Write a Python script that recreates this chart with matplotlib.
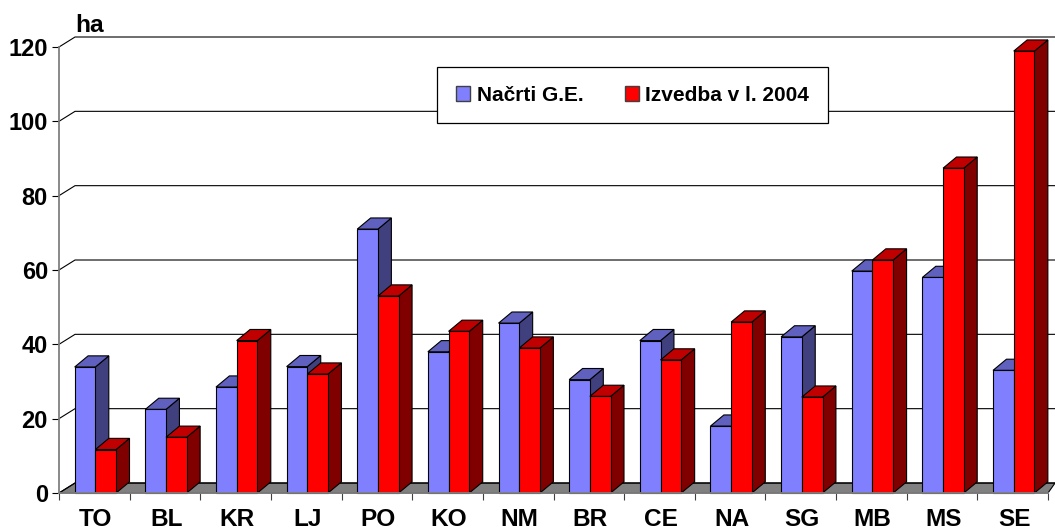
import matplotlib
matplotlib.use("Agg")
import matplotlib.pyplot as plt
import matplotlib.patches as patches
import numpy as np

plt.rcParams['font.family'] = ['Liberation Sans', 'DejaVu Sans']
plt.rcParams['font.weight'] = 'bold'

categories = ["TO", "BL", "KR", "LJ", "PO", "KO", "NM", "BR", "CE", "NA", "SG", "MB", "MS", "SE"]
nacrti = [33.9, 22.5, 28.5, 34, 71, 38, 45.7, 30.5, 41, 18, 42, 59.7, 58, 33]
izvedba = [11.7, 15, 41, 32, 53, 43.5, 39, 26, 35.8, 46, 25.8, 62.7, 87.4, 118.9]
yticks = [0, 20, 40, 60, 80, 100, 120]
series_names = ["Načrti G.E.", "Izvedba v l. 2004"]

W, H = 1055, 532
fig = plt.figure(figsize=(W / 100, H / 100), dpi=100)
ax = fig.add_axes([59 / W, (H - 493) / H, 989 / W, 446 / H])
ax.set_xlim(0, 14)
ax.set_ylim(0, 120)

# fake 3d offsets, in data units
wall_dx, wall_dy = 0.227, 2.69
bar_dx, bar_dy = 0.19, 3.0
width = 0.293
right = 14.1

# floor
floor = patches.Polygon([(0, 0), (wall_dx, wall_dy), (right, wall_dy), (14, 0)],
                        closed=True, facecolor="#808080", edgecolor="black",
                        lw=0.8, clip_on=False, zorder=1)
ax.add_patch(floor)

# grid on the back wall with the short diagonal on the left
for t in yticks:
    ax.plot([0, wall_dx, right], [t, t + wall_dy, t + wall_dy], color="black", lw=0.8,
            clip_on=False, zorder=1.5)


def bar3d(x, v, front, side, top, z):
    ax.bar(x, v, width, align="edge", color=front, edgecolor="black", lw=0.8,
           zorder=z, clip_on=False)
    ax.add_patch(patches.Polygon([(x + width, 0), (x + width + bar_dx, bar_dy),
                                  (x + width + bar_dx, v + bar_dy), (x + width, v)],
                                 closed=True, facecolor=side, edgecolor="black",
                                 lw=0.8, zorder=z - 0.1, clip_on=False))
    ax.add_patch(patches.Polygon([(x, v), (x + bar_dx, v + bar_dy),
                                  (x + width + bar_dx, v + bar_dy), (x + width, v)],
                                 closed=True, facecolor=top, edgecolor="black",
                                 lw=0.8, zorder=z - 0.1, clip_on=False))


for i in range(len(categories)):
    x0 = i + 0.222
    bar3d(x0, nacrti[i], "#8080FF", "#40407F", "#6060BF", 3)
    bar3d(x0 + width, izvedba[i], "#FF0000", "#800000", "#C00000", 4)

for s in ["top", "right"]:
    ax.spines[s].set_visible(False)
for s in ["left", "bottom"]:
    ax.spines[s].set_color("#808080")
    ax.spines[s].set_linewidth(1.3)
    ax.spines[s].set_zorder(5)

ax.set_yticks(yticks)
ax.set_yticklabels([str(t) for t in yticks], fontsize=17, fontweight="bold")
ax.tick_params(axis="y", length=5, width=0.8, color="black", pad=3)

ax.set_xticks(np.arange(15))
ax.set_xticklabels([])
ax.tick_params(axis="x", which="major", length=5, width=0.8, color="#404040")
ax.set_xticks(np.arange(14) + 0.52, minor=True)
ax.set_xticklabels(categories, minor=True, fontsize=17.6, fontweight="bold")
ax.tick_params(axis="x", which="minor", length=0, pad=11)

ax.text(0.227, 122.8, "ha", fontsize=17.6, fontweight="bold", ha="left", va="bottom")

handles = [patches.Patch(facecolor="#8080FF", edgecolor="#404040"),
           patches.Patch(facecolor="#FF0000", edgecolor="#404040")]
leg = ax.legend(handles, series_names, loc="center", bbox_to_anchor=(0.580, 0.892),
                ncol=2, fontsize=15, frameon=True, fancybox=False, framealpha=1,
                edgecolor="black", handlelength=0.68, handleheight=0.7,
                handletextpad=0.3, columnspacing=2.0, borderpad=0.9)
leg.get_frame().set_linewidth(0.9)
leg.set_zorder(6)

fig.savefig("out.png", dpi=100)
